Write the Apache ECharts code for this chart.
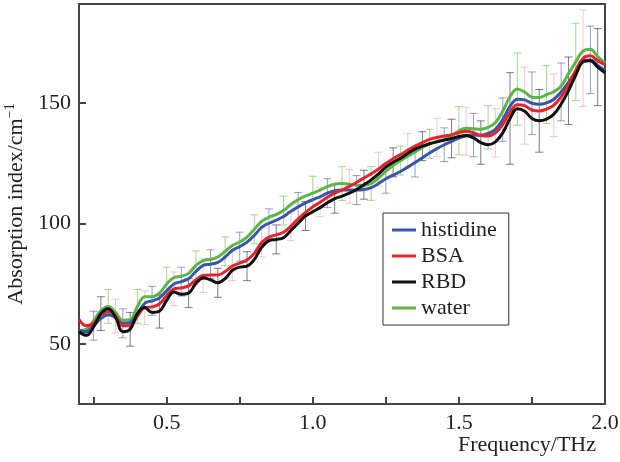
<!DOCTYPE html>
<html>
<head>
<meta charset="utf-8">
<script src="https://cdn.jsdelivr.net/npm/echarts@6/dist/echarts.min.js"></script>
<style>
  html, body { margin: 0; padding: 0; background: #fff; }
  #chart { width: 620px; height: 462px; }
</style>
</head>
<body>
<div id="chart"></div>
<script>
const freq = [
  0.2, 0.225, 0.25, 0.275, 0.3, 0.325, 0.35, 0.375, 0.4, 0.425, 0.45, 0.475,
  0.5, 0.525, 0.55, 0.575, 0.6, 0.625, 0.65, 0.675, 0.7, 0.725, 0.75, 0.775,
  0.8, 0.825, 0.85, 0.875, 0.9, 0.925, 0.95, 0.975, 1.0, 1.025, 1.05, 1.075,
  1.1, 1.125, 1.15, 1.175, 1.2, 1.225, 1.25, 1.275, 1.3, 1.325, 1.35, 1.375,
  1.4, 1.425, 1.45, 1.475, 1.5, 1.525, 1.55, 1.575, 1.6, 1.625, 1.65, 1.675,
  1.7, 1.725, 1.75, 1.775, 1.8, 1.825, 1.85, 1.875, 1.9, 1.925, 1.95, 1.975, 2.0
];

const histidine = [
  55.5, 55, 57.5, 60.5, 62, 60.8, 58.5, 58.8, 62.5, 66.8, 67.8, 69,
  72, 74.8, 75.8, 77, 80, 82.5, 83, 83.8, 86, 88.8, 90.3, 92.2,
  95, 98.3, 100, 101.3, 102.8, 105, 106.8, 108.5, 109.8, 111, 112.5, 113.5,
  113.8, 113.8, 113.8, 114, 114.8, 116.5, 118.5, 120, 121.5, 123.3, 125.2, 127.2,
  129.2, 131, 132.6, 134, 135.3, 136.3, 136.6, 136.5, 137.3, 139, 143, 148.5,
  151.5, 151.2, 149.8, 149.4, 150, 151.5, 154.5, 158.5, 163, 167.3, 167.8, 165.5, 163.5
];

const bsa = [
  60, 57.5, 58.5, 62, 63.3, 61.5, 57.5, 57.5, 61.5, 65, 65.3, 66.5,
  70, 72.8, 73.2, 74, 76.5, 78.3, 78.5, 78.5, 80, 82.2, 83.5, 84.8,
  87.5, 92, 94.3, 95.2, 96.3, 98.8, 101.8, 104.5, 106.8, 108.7, 110.8, 112.5,
  113.8, 115.3, 117, 118.8, 120.5, 122.5, 124.8, 126.8, 128.5, 130.3, 132, 133.5,
  134.8, 135.6, 136.2, 136.8, 137.6, 138.2, 137.6, 136.4, 136.2, 137.5, 141, 146,
  149.2, 148.8, 147, 146.6, 147.4, 149, 152.5, 157.5, 163.5, 168.5, 169.5, 167.5, 165.8
];

const rbd = [
  55, 53.5, 57, 62.5, 64.5, 61, 55, 56, 62.5, 65, 63, 63.5,
  68, 71.5, 70.5, 71, 75, 77.3, 76.5, 75.3, 77, 80.5, 81.8, 82.2,
  85, 90, 92.8, 93.3, 94, 97, 100, 103, 104.8, 106.5, 108.5, 110.2,
  111.3, 112.5, 114, 116, 118, 120.5, 123.3, 125.3, 127, 129, 130.8, 132,
  133, 133.8, 134.5, 135.2, 136, 136.4, 135.4, 133.5, 132.6, 133.8, 137.5, 143.5,
  147.5, 146.5, 143.5, 142.5, 143.2, 145.3, 149.5, 155, 161.5, 167, 167.5, 164.8, 162.5
];

const water = [
  55.5, 56, 59.5, 63.8, 65.5, 63, 59.8, 60, 65.5, 69.5, 69.5, 71,
  74.8, 77.5, 78, 79.2, 82.5, 84.5, 85, 86, 88.3, 90.8, 92.2, 94.3,
  97.5, 100.8, 102.5, 103.7, 105.3, 107.8, 109.8, 111.3, 112.5, 113.8, 115.2, 116.2,
  116.5, 116.3, 115.8, 115.8, 116.5, 118.8, 121.5, 124, 126, 127.8, 129.6, 131.5,
  133, 134, 134.8, 136.2, 138.4, 139.4, 139.2, 139, 139.8, 141.8, 146.5, 152.5,
  155.7, 154.5, 152.3, 152.2, 153.4, 154.6, 157, 162, 167, 171.5, 172.2, 169.2, 166.5
];

// error bar half-widths, one bar every 4th sample, staggered per series
const histidineErr = [6, 6, 6, 6, 6, 6, 6, 6, 6, 6, 6, 6, 7, 9, 9, 13, 12, 14];
const bsaErr = [7, 7, 7, 7, 6, 6, 6, 6, 7, 7, 7, 8, 10, 10, 16, 13, 20];
const rbdErr = [7, 7, 7, 6, 6, 6, 6, 6, 6, 6, 6, 6, 8, 9, 19, 13, 14, 16];
const waterErr = [7, 7, 7, 6, 6, 6, 6, 7, 7, 7, 6, 6, 10, 9, 15, 12, 16];

const seriesNames = ['histidine', 'BSA', 'RBD', 'water'];
const xTickValues = [0.25, 0.5, 0.75, 1.0, 1.25, 1.5, 1.75, 2.0];
const xLabelValues = [0.5, 1.0, 1.5, 2.0];
const yTickValues = [50, 100, 150];

const font = 'Liberation Serif, Times New Roman, serif';
const chart = echarts.init(document.getElementById('chart'));

function pairs(values) {
  return freq.map((f, i) => [f, values[i]]);
}

function errData(values, errs, start) {
  return errs.map((e, k) => {
    const i = start + 4 * k;
    return [freq[i], values[i] - e, values[i] + e];
  });
}

function errSeries(name, values, errs, start, color) {
  return {
    type: 'custom',
    name: name + '-err',
    silent: true,
    z: 1,
    data: errData(values, errs, start),
    renderItem(params, api) {
      const top = api.coord([api.value(0), api.value(2)]);
      const bot = api.coord([api.value(0), api.value(1)]);
      const cap = 4;
      const style = { stroke: color, lineWidth: 1 };
      return {
        type: 'group',
        children: [
          { type: 'line', shape: { x1: top[0], y1: top[1], x2: bot[0], y2: bot[1] }, style },
          { type: 'line', shape: { x1: top[0] - cap, y1: top[1], x2: top[0] + cap, y2: top[1] }, style },
          { type: 'line', shape: { x1: bot[0] - cap, y1: bot[1], x2: bot[0] + cap, y2: bot[1] }, style },
        ],
      };
    },
  };
}

function lineSeries(name, values, color, z) {
  return {
    name,
    type: 'line',
    data: pairs(values),
    smooth: 0.4,
    showSymbol: false,
    z,
    lineStyle: { color, width: 3 },
    itemStyle: { color },
  };
}

chart.setOption({
  animation: false,
  grid: {
    left: 79, right: 15, top: 4, bottom: 58,
    outerBoundsMode: 'none',
    containLabel: false,
    show: true, borderColor: '#444', borderWidth: 2,
  },
  legend: {
    data: seriesNames,
    orient: 'vertical',
    left: 383,
    top: 213,
    backgroundColor: '#fff',
    borderColor: '#333',
    borderWidth: 1,
    padding: [6, 12, 6, 9],
    itemGap: 4,
    itemWidth: 24,
    itemHeight: 3,
    icon: 'rect',
    textStyle: { fontFamily: font, fontSize: 22, color: '#222' },
  },
  xAxis: {
    type: 'value',
    min: 0.2,
    max: 2.0,
    name: 'Frequency/THz',
    nameLocation: 'end',
    nameGap: -9,
    nameTextStyle: { fontFamily: font, fontSize: 22, color: '#222', align: 'right', verticalAlign: 'top', padding: [30, 0, 0, 0] },
    axisLine: { lineStyle: { color: '#444', width: 2 } },
    axisTick: { inside: true, length: 7, customValues: xTickValues, lineStyle: { color: '#444', width: 2 } },
    axisLabel: {
      fontFamily: font, fontSize: 22, color: '#222', margin: 8,
      customValues: xLabelValues,
      formatter: (v) => v.toFixed(1),
    },
    splitLine: { show: false },
  },
  yAxis: {
    type: 'value',
    min: 25,
    max: 191,
    name: '{a|Absorption index/cm}{s|−1}',
    nameLocation: 'middle',
    nameGap: 49,
    nameTextStyle: {
      color: '#222',
      rich: {
        a: { fontFamily: font, fontSize: 22, color: '#222', lineHeight: 26 },
        s: { fontFamily: font, fontSize: 14, color: '#222', verticalAlign: 'top', lineHeight: 26, padding: [0, 0, 10, 0] },
      },
    },
    axisLine: { lineStyle: { color: '#444', width: 2 } },
    axisTick: { inside: true, length: 7, customValues: yTickValues, lineStyle: { color: '#444', width: 2 } },
    axisLabel: { fontFamily: font, fontSize: 22, color: '#222', margin: 8, customValues: yTickValues },
    splitLine: { show: false },
  },
  series: [
    errSeries('histidine', histidine, histidineErr, 2, 'rgba(60, 80, 170, 0.55)'),
    errSeries('RBD', rbd, rbdErr, 3, 'rgba(20, 20, 20, 0.55)'),
    errSeries('water', water, waterErr, 4, 'rgba(90, 180, 60, 0.55)'),
    errSeries('BSA', bsa, bsaErr, 5, 'rgba(240, 90, 100, 0.35)'),
    lineSeries('water', water, '#5cb545', 2),
    lineSeries('histidine', histidine, '#3a56a8', 3),
    lineSeries('BSA', bsa, '#e8232b', 4),
    lineSeries('RBD', rbd, '#111111', 5),
  ],
});
</script>
</body>
</html>
